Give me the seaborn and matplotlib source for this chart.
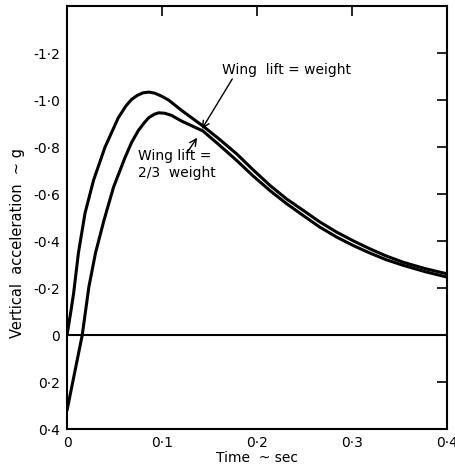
import matplotlib
matplotlib.use('Agg')
import matplotlib.pyplot as plt
import numpy as np
import pandas as pd
import seaborn as sns

# curve: wing lift = weight
t_full = [0.0, 0.004, 0.007, 0.012, 0.019, 0.028, 0.040, 0.054, 0.062, 0.068, 0.074,
          0.080, 0.086, 0.092, 0.099, 0.107, 0.121, 0.143, 0.160, 0.179, 0.196,
          0.214, 0.231, 0.249, 0.266, 0.284, 0.302, 0.319, 0.336, 0.354, 0.377, 0.400]
a_full = [0.0, -0.10, -0.18, -0.35, -0.52, -0.66, -0.80, -0.925, -0.975, -1.003, -1.02,
          -1.031, -1.034, -1.03, -1.018, -1.0, -0.955, -0.89, -0.835, -0.77, -0.703,
          -0.636, -0.58, -0.53, -0.482, -0.438, -0.40, -0.367, -0.337, -0.31, -0.283, -0.261]

# curve: wing lift = 2/3 weight
t_part = [0.0, 0.008, 0.016, 0.023, 0.030, 0.039, 0.049, 0.061, 0.068, 0.075, 0.081,
          0.086, 0.092, 0.0965, 0.103, 0.110, 0.121, 0.143, 0.160, 0.179, 0.196,
          0.214, 0.231, 0.249, 0.266, 0.284, 0.302, 0.319, 0.336, 0.354, 0.377, 0.400]
a_part = [0.32, 0.16, 0.0, -0.205, -0.35, -0.49, -0.63, -0.755, -0.82, -0.87, -0.902,
          -0.925, -0.94, -0.946, -0.944, -0.935, -0.91, -0.869, -0.81, -0.742, -0.677,
          -0.614, -0.56, -0.508, -0.46, -0.417, -0.38, -0.349, -0.321, -0.297, -0.27, -0.247]

x_ticks = [0.0, 0.1, 0.2, 0.3, 0.4]
x_labels = ['0', '0·1', '0·2', '0·3', '0·4']
y_ticks = [-1.2, -1.0, -0.8, -0.6, -0.4, -0.2, 0.0, 0.2, 0.4]
y_labels = ['-1·2', '-1·0', '-0·8', '-0·6', '-0·4', '-0·2', '0', '0·2', '0·4']

df = pd.concat([
    pd.DataFrame({'t': t_full, 'acc': a_full, 'case': 'weight'}),
    pd.DataFrame({'t': t_part, 'acc': a_part, 'case': '2/3 weight'}),
])

sns.set_theme(style='white')
plt.rcParams['font.family'] = ['DejaVu Sans']
plt.rcParams['text.color'] = 'black'
plt.rcParams['axes.labelcolor'] = 'black'
plt.rcParams['xtick.color'] = 'black'
plt.rcParams['ytick.color'] = 'black'

fig = plt.figure(figsize=(4.56, 4.70), dpi=100)
ax = fig.add_axes([0.147, 0.087, 0.833, 0.9])

sns.lineplot(data=df, x='t', y='acc', units='case', estimator=None, sort=False,
             color='black', linewidth=2.2, ax=ax, legend=False)
ax.axhline(0, color='black', linewidth=1.5)

ax.set_xlim(0, 0.4)
ax.set_ylim(0.4, -1.4)
ax.set_xticks(x_ticks)
ax.set_xticklabels(x_labels)
ax.set_yticks(y_ticks)
ax.set_yticklabels(y_labels)
ax.tick_params(direction='in', length=7, width=1.2, labelsize=10,
               top=True, right=True, pad=5)

for s in ax.spines.values():
    s.set_color('black')
    s.set_linewidth(1.5)

ax.set_xlabel('Time  ~ sec', fontsize=10, labelpad=1)
ax.set_ylabel('Vertical  acceleration  ~ g', fontsize=10.5)
ax.yaxis.set_label_coords(-0.11, 0.44)

# labels and their pointers
ax.text(0.163, -1.13, 'Wing  lift = weight', fontsize=10, ha='left', va='center')
ax.annotate('', xy=(0.142, -0.877), xytext=(0.174, -1.09),
            arrowprops=dict(arrowstyle='->', color='black', lw=1, shrinkA=0, shrinkB=0))
ax.text(0.075, -0.725, 'Wing lift =\n2/3  weight', fontsize=10, ha='left', va='center',
        linespacing=1.25)
ax.annotate('', xy=(0.137, -0.84), xytext=(0.127, -0.78),
            arrowprops=dict(arrowstyle='->', color='black', lw=1, shrinkA=0, shrinkB=0))

fig.savefig('out.png', dpi=100)
